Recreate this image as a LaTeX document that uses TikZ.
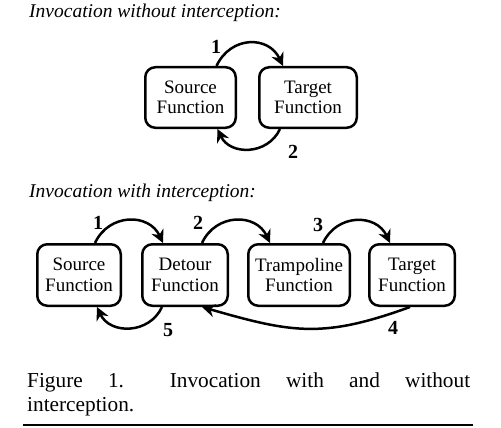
\documentclass[tikz,border=0pt]{standalone}
\usepackage{fontspec}
\setmainfont{Liberation Serif}
\usetikzlibrary{arrows.meta}

\tikzset{
  fn/.style={draw, line width=2.5pt, rounded corners=10pt, align=center,
    inner sep=0pt, font=\fontsize{19}{20.5}\selectfont},
  arr/.style={line width=2.5pt, -{Stealth[length=13pt,width=13pt]}},
  num/.style={font=\fontsize{20}{22}\selectfont\bfseries, inner sep=0pt},
  ttl/.style={font=\fontsize{19.5}{22}\selectfont\itshape, anchor=base west, inner sep=0pt}
}

\begin{document}
\begin{tikzpicture}[x=1pt,y=1pt]
\useasboundingbox (0,0) rectangle (501,-428);

% without interception
\node[ttl] (ttlA) at (29,-18) {Invocation without interception:};
\node[fn, minimum width=90.5pt, minimum height=60.5pt] (srcA) at (190.5,-97.5) {Source\\Function};
\node[fn, minimum width=97.5pt, minimum height=60.5pt] (tgtA) at (308,-97.5) {Target\\Function};

\draw[arr] ([xshift=26pt]srcA.north) to[out=65,in=115,looseness=1.3] ([xshift=-25pt]tgtA.north);
\draw[arr] ([xshift=-28pt]tgtA.south) to[out=-115,in=-65,looseness=1.2] ([xshift=27pt]srcA.south);
\node[num] (nA1) at (216,-47) {1};
\node[num] (nA2) at (293,-152) {2};

% with interception
\node[ttl] (ttlB) at (29,-197) {Invocation with interception:};
\node[fn, minimum width=83.5pt, minimum height=61.5pt] (srcB) at (79,-275) {Source\\Function};
\node[fn, minimum width=85.5pt, minimum height=61.5pt] (detB) at (185,-275) {Detour\\Function};
\node[fn, minimum width=101.5pt, minimum height=61.5pt] (trpB) at (299,-275) {Trampoline\\Function};
\node[fn, minimum width=85.5pt, minimum height=61.5pt] (tgtB) at (412,-275) {Target\\Function};

\draw[arr] ([xshift=16pt]srcB.north) to[out=65,in=115,looseness=1.25] ([xshift=-22pt]detB.north);
\draw[arr] ([xshift=17pt]detB.north) to[out=65,in=115,looseness=1.25] ([xshift=-29pt]trpB.north);
\draw[arr] ([xshift=24pt]trpB.north) to[out=65,in=115,looseness=1.25] ([xshift=-22pt]tgtB.north);
\draw[arr] ([xshift=-2pt]tgtB.south) to[out=200,in=-16,looseness=1.15] ([xshift=17pt]detB.south);
\draw[arr] ([xshift=-23pt]detB.south) to[out=-115,in=-65,looseness=1.2] ([xshift=18pt]srcB.south);
\node[num] (nB1) at (98,-223) {1};
\node[num] (nB2) at (198,-223) {2};
\node[num] (nB3) at (318,-225) {3};
\node[num] (nB4) at (393,-328) {4};
\node[num] (nB5) at (168,-330) {5};

% caption
\node[anchor=base west, inner sep=0pt, text width=443pt, align=left,
  font=\fontsize{21.3}{24.5}\selectfont] (cap) at (27,-387)
  {\hbox to 443pt{Figure\hfill\ 1.\hspace{1.3em plus 1fill}Invocation\hfill\ with\hfill\ and\hfill\ without}\\interception.};
\draw[line width=1.2pt] (23,-425) -- (473,-425);
\end{tikzpicture}
\end{document}
